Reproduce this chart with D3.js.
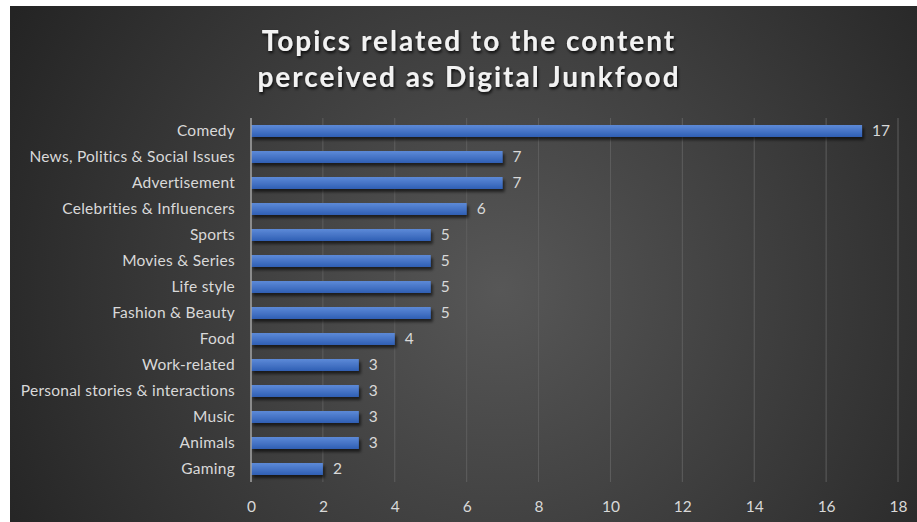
<!DOCTYPE html>
<html>
<head>
<meta charset="utf-8">
<script src="https://cdn.jsdelivr.net/npm/d3@7/dist/d3.min.js"></script>
<style>
  html, body { margin: 0; padding: 0; background: #ffffff; }
  svg { display: block; }
</style>
</head>
<body>
<svg id="chart" width="917" height="522"></svg>
<script>
// Topics and how many respondents named each one
const categories = [
  "Comedy",
  "News, Politics & Social Issues",
  "Advertisement",
  "Celebrities & Influencers",
  "Sports",
  "Movies & Series",
  "Life style",
  "Fashion & Beauty",
  "Food",
  "Work-related",
  "Personal stories & interactions",
  "Music",
  "Animals",
  "Gaming"
];
const counts = [17, 7, 7, 6, 5, 5, 5, 5, 4, 3, 3, 3, 3, 2];
const xTicks = [0, 2, 4, 6, 8, 10, 12, 14, 16, 18];
const titleLines = ["Topics related to the content", "perceived as Digital Junkfood"];

const W = 917, H = 522;
const svg = d3.select("#chart");
const defs = svg.append("defs");

// Dark panel with a soft lighter centre
const bg = defs.append("radialGradient").attr("id", "bgGrad")
  .attr("gradientUnits", "userSpaceOnUse")
  .attr("cx", 500).attr("cy", 290).attr("r", 560);
bg.append("stop").attr("offset", "0%").attr("stop-color", "#575757");
bg.append("stop").attr("offset", "100%").attr("stop-color", "#242424");

const barGrad = defs.append("linearGradient").attr("id", "barGrad")
  .attr("x1", 0).attr("y1", 0).attr("x2", 0).attr("y2", 1);
barGrad.append("stop").attr("offset", "0%").attr("stop-color", "#5d8ad8");
barGrad.append("stop").attr("offset", "100%").attr("stop-color", "#2f5fb4");

const shadow = defs.append("filter").attr("id", "barShadow")
  .attr("x", "-5%").attr("y", "-50%").attr("width", "115%").attr("height", "250%");
shadow.append("feDropShadow").attr("dx", 2).attr("dy", 3).attr("stdDeviation", 1.8)
  .attr("flood-color", "#000").attr("flood-opacity", 0.6);

const glow = defs.append("filter").attr("id", "titleShadow")
  .attr("x", "-10%").attr("y", "-30%").attr("width", "120%").attr("height", "160%");
glow.append("feDropShadow").attr("dx", 1).attr("dy", 2).attr("stdDeviation", 1.5)
  .attr("flood-color", "#000").attr("flood-opacity", 0.85);

svg.append("rect").attr("x", 10).attr("y", 6).attr("width", W - 10).attr("height", H - 6)
  .attr("fill", "url(#bgGrad)");

const plot = { left: 251, right: 898, top: 118, bottom: 482 };

const x = d3.scaleLinear().domain([0, 18]).range([plot.left, plot.right]);
const y = d3.scaleBand().domain(categories).range([plot.top, plot.bottom]).paddingInner(0.54).paddingOuter(0.27);

// Vertical gridlines
svg.append("g").selectAll("line").data(xTicks.filter(d => d > 0)).join("line")
  .attr("x1", d => x(d)).attr("x2", d => x(d))
  .attr("y1", plot.top).attr("y2", plot.bottom)
  .attr("stroke", "#5e5e5e").attr("stroke-width", 1);

// Bars
svg.append("g").selectAll("rect").data(categories).join("rect")
  .attr("x", x(0))
  .attr("y", d => y(d))
  .attr("width", (d, i) => x(counts[i]) - x(0))
  .attr("height", y.bandwidth())
  .attr("fill", "url(#barGrad)")
  .attr("filter", "url(#barShadow)");

// Category axis line
svg.append("line")
  .attr("x1", plot.left).attr("x2", plot.left)
  .attr("y1", plot.top).attr("y2", plot.bottom)
  .attr("stroke", "#a6a6a6").attr("stroke-width", 1.5);

const font = "Lato, 'Open Sans', sans-serif";
const labelSize = 15.5;

// Category labels
const yAxis = d3.axisLeft(y).tickSize(0).tickPadding(16);
const gy = svg.append("g").attr("transform", `translate(${plot.left},0)`).call(yAxis);
gy.select(".domain").remove();
gy.selectAll("text").attr("font-family", font).attr("font-size", labelSize)
  .attr("letter-spacing", 0.25).attr("fill", "#d9d9d9");

// Value axis labels
const xAxis = d3.axisBottom(x).tickValues(xTicks).tickSize(0).tickPadding(13);
const gx = svg.append("g").attr("transform", `translate(0,${plot.bottom + 6})`).call(xAxis);
gx.select(".domain").remove();
gx.selectAll("text").attr("font-family", font).attr("font-size", labelSize).attr("fill", "#d9d9d9");

// Value labels at bar ends
svg.append("g").selectAll("text").data(categories).join("text")
  .attr("x", (d, i) => x(counts[i]) + 10)
  .attr("y", d => y(d) + y.bandwidth() / 2)
  .attr("dy", "0.35em")
  .attr("font-family", font).attr("font-size", labelSize).attr("fill", "#d9d9d9")
  .text((d, i) => counts[i]);

// Title
svg.append("g").attr("filter", "url(#titleShadow)").selectAll("text").data(titleLines).join("text")
  .attr("x", 469)
  .attr("y", (d, i) => 51 + i * 36)
  .attr("text-anchor", "middle")
  .attr("font-family", font).attr("font-weight", "bold").attr("font-size", 28)
  .attr("letter-spacing", 2.0)
  .attr("fill", "#f2f2f2")
  .text(d => d);
</script>
</body>
</html>
